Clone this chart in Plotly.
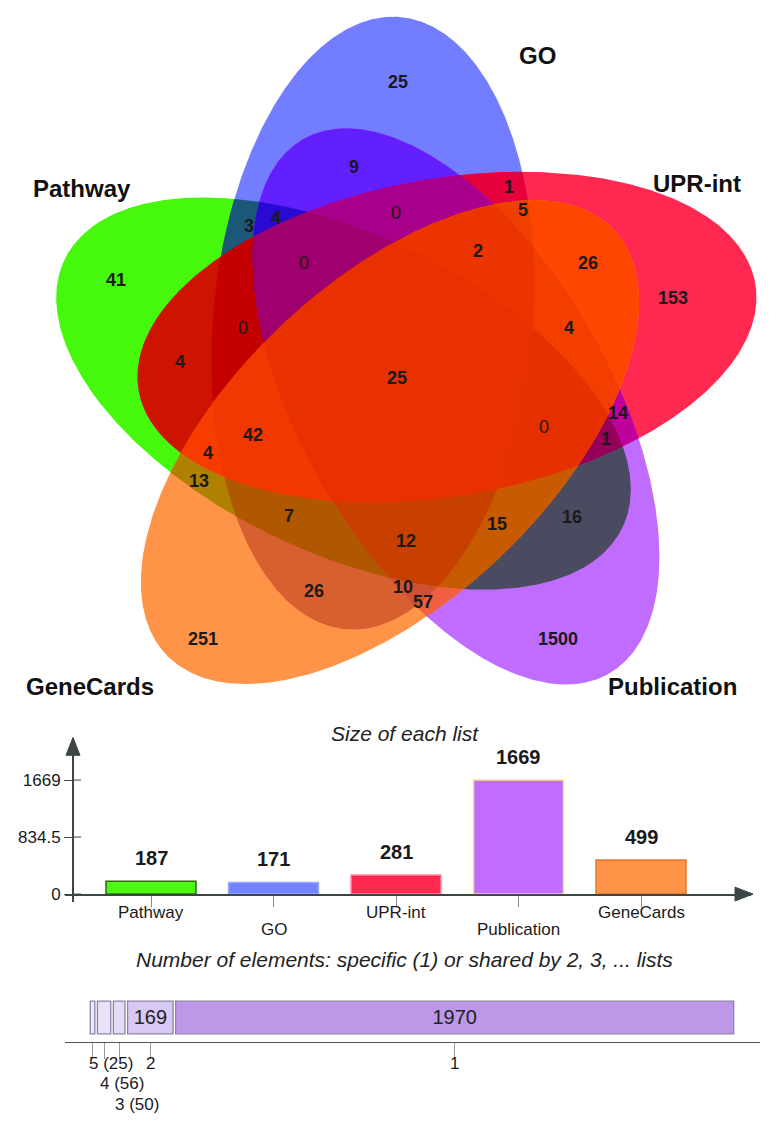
import numpy as np
import plotly.graph_objects as go

W, H = 780, 1138
FONT = "Liberation Sans, Arial, Helvetica, sans-serif"

# ---------------- data ----------------
set_keys = ["P", "G", "U", "B", "C"]
set_names = ["Pathway", "GO", "UPR-int", "Publication", "GeneCards"]
list_sizes = [187, 171, 281, 1669, 499]

region_keys = ["P", "G", "U", "B", "C",
               "PG", "PU", "PB", "PC", "GU", "GB", "GC", "UB", "UC", "BC",
               "PGU", "PGB", "PGC", "PUB", "PUC", "PBC", "GUB", "GUC", "GBC", "UBC",
               "PGUB", "PGUC", "PGBC", "PUBC", "GUBC",
               "PGUBC"]
region_counts = [41, 25, 153, 1500, 251,
                 3, 4, 16, 13, 1, 9, 26, 14, 26, 57,
                 0, 4, 7, 1, 4, 15, 0, 5, 10, 4,
                 0, 42, 12, 0, 2,
                 25]

degree_levels = [5, 4, 3, 2, 1]
degree_counts = [25, 56, 50, 169, 1970]

# ---------------- layout / style ----------------
# ellipse geometry in venn pixel space: cx, cy, semi-major, semi-minor, rotation (deg)
ELLIPSES = {
    "P": (343.5, 397.0, 310, 160, 26.0),
    "G": (373.0, 326.0, 310, 160, 95.0),
    "U": (447.0, 340.0, 313, 160, -10.0),
    "B": (456.0, 410.0, 310, 155, 60.6),
    "C": (390.0, 446.0, 310, 160, -44.0),
}
REGION_COLORS = {
    "P": "#46F80C", "G": "#737DFF", "U": "#FF2850", "B": "#C06CFF", "C": "#FF9448",
    "PG": "#1C5878", "PU": "#CC1400", "PB": "#4A4A60", "PC": "#B08000", "GU": "#E6003C",
    "GB": "#6220FF", "GC": "#D86030", "UB": "#C0009A", "UC": "#FF4600", "BC": "#F06040",
    "PGU": "#C40000", "PGB": "#280AD2", "PGC": "#B05800", "PUB": "#96005A", "PUC": "#F83C00",
    "PBC": "#C85A00", "GUB": "#A8008C", "GUC": "#F04000", "GBC": "#D25032", "UBC": "#F43E00",
    "PGUB": "#A0006E", "PGUC": "#F03800", "PGBC": "#C84000", "PUBC": "#E63000", "GUBC": "#EB3400",
    "PGUBC": "#E83000",
}
COUNT_POS = {
    "P": (116, 282), "G": (398, 83), "U": (673, 301), "B": (558, 645), "C": (203, 645),
    "PG": (249, 228), "PU": (180, 365), "PB": (572, 522), "PC": (199, 485), "GU": (509, 189),
    "GB": (354, 168), "GC": (314, 596), "UB": (618, 417), "UC": (588, 265), "BC": (423, 607),
    "PGU": (243, 331), "PGB": (276, 220), "PGC": (289, 521), "PUB": (606, 443), "PUC": (208, 457),
    "PBC": (497, 529), "GUB": (396, 215), "GUC": (523, 212), "GBC": (403, 592), "UBC": (569, 331),
    "PGUB": (304, 265), "PGUC": (253, 439), "PGBC": (406, 546), "PUBC": (544, 431), "GUBC": (478, 253),
    "PGUBC": (397, 381),
}
SET_LABEL_POS = {"P": (82, 190), "G": (537, 56), "U": (697, 185), "B": (672, 693), "C": (90, 693)}

BAR_COLORS = ["#4CF912", "#7383FF", "#FF2850", "#C06CFF", "#FF9448"]
BAR_LINES = ["#2E6A12", "#9AA8FF", "#FF8CA0", "#FFE27A", "#E07838"]
DEGREE_FILLS = {5: "#EEE8FA", 4: "#EAE0FA", 3: "#E6DAF8", 2: "#DAC8F4", 1: "#BE98E8"}
TXT = "#1a1a1a"
AXC = "#3c4646"


def px(x):
    return x / W


def py(y):
    return 1 - y / H


def _rot(th):
    r = np.radians(th)
    return np.cos(r), np.sin(r)


def ellipse_boundary(e, n=1600):
    cx, cy, a, b, th = e
    c, s = _rot(th)
    t = np.linspace(0, 2 * np.pi, n, endpoint=False)
    x = cx + a * np.cos(t) * c - b * np.sin(t) * s
    y = cy + a * np.cos(t) * s + b * np.sin(t) * c
    return x, y


def inside(x, y, e):
    cx, cy, a, b, th = e
    c, s = _rot(th)
    dx, dy = x - cx, y - cy
    u = dx * c + dy * s
    v = -dx * s + dy * c
    return (u / a) ** 2 + (v / b) ** 2 <= 1 + 1e-9


def intersection_polygon(keys):
    xs, ys = [], []
    for k in keys:
        bx, by = ellipse_boundary(ELLIPSES[k])
        m = np.ones(bx.shape, bool)
        for o in keys:
            if o != k:
                m &= inside(bx, by, ELLIPSES[o])
        xs.append(bx[m])
        ys.append(by[m])
    x = np.concatenate(xs)
    y = np.concatenate(ys)
    if len(x) < 3:
        return None, None
    mx, my = x.mean(), y.mean()
    order = np.argsort(np.arctan2(y - my, x - mx))
    x, y = x[order], y[order]
    return np.append(x, x[0]), np.append(y, y[0])


def ann(**kw):
    d = dict(showarrow=False, xanchor="center", yanchor="middle")
    d.update(kw)
    return d


fig = go.Figure()

# ---- Venn: paint intersections from low to high order (painter's algorithm) ----
for key in sorted(region_keys, key=len):
    x, y = intersection_polygon(list(key))
    if x is None:
        continue
    fig.add_trace(go.Scatter(x=x, y=y, mode="lines", fill="toself",
                             fillcolor=REGION_COLORS[key], line=dict(width=0, color=REGION_COLORS[key]),
                             hoverinfo="skip", xaxis="x", yaxis="y"))

annotations = []
for key, cnt in zip(region_keys, region_counts):
    x, y = COUNT_POS[key]
    txt = f"<b>{cnt}</b>" if cnt != 0 else str(cnt)
    annotations.append(ann(x=x, y=y, xref="x", yref="y", text=txt,
                           font=dict(size=18, color=TXT, family=FONT)))
for key, name in zip(set_keys, set_names):
    x, y = SET_LABEL_POS[key]
    annotations.append(ann(x=x, y=y, xref="x", yref="y", text=f"<b>{name}</b>",
                           font=dict(size=24, color="#111111", family=FONT)))

# ---- Size of each list ----
cat_x0, cat_step, bar_px_w = 151.0, 122.5, 90.0
y0_px, ytop_px, unit_px = 902.0, 746.0, 115.0 / 1669.0
ax2_left, ax2_right, yax_x = 65.0, 751.0, 73.0

fig.add_trace(go.Bar(x=set_names, y=list_sizes, xaxis="x2", yaxis="y2",
                     width=bar_px_w / cat_step,
                     marker=dict(color=BAR_COLORS, line=dict(color=BAR_LINES, width=1.5)),
                     hoverinfo="skip"))
for i, (name, v) in enumerate(zip(set_names, list_sizes)):
    annotations.append(ann(x=name, y=v, xref="x2", yref="y2", yanchor="bottom", yshift=10,
                           text=f"<b>{v}</b>", font=dict(size=20, color=TXT, family=FONT)))
    annotations.append(ann(x=name, y=py(921 if i % 2 == 0 else 938), xref="x2", yref="paper",
                           text=name, font=dict(size=17, color=TXT, family=FONT)))

annotations.append(ann(x=px(405), y=py(740), xref="paper", yref="paper",
                       text="<i>Size of each list</i>",
                       font=dict(size=21, color="#222222", family=FONT)))

ymax = max(list_sizes)
ytick_vals = [0, ymax / 2, ymax]
ytick_text = [f"{v:g}" for v in ytick_vals]

shapes = []
# y-axis stub below zero, crossing tick halves, arrow heads
shapes.append(dict(type="line", xref="paper", yref="paper", x0=px(yax_x), x1=px(yax_x),
                   y0=py(y0_px), y1=py(910), line=dict(color=AXC, width=2)))
for v in ytick_vals:
    shapes.append(dict(type="line", xref="paper", yref="y2", x0=px(yax_x), x1=px(yax_x + 8),
                       y0=v, y1=v, line=dict(color=AXC, width=1)))
shapes.append(dict(type="path", xref="paper", yref="paper",
                   path=f"M {px(66)},{py(762)} L {px(73)},{py(744)} L {px(80)},{py(762)} Z",
                   fillcolor=AXC, line=dict(color=AXC, width=1)))
shapes.append(dict(type="path", xref="paper", yref="paper",
                   path=f"M {px(735)},{py(895)} L {px(753)},{py(902)} L {px(735)},{py(909)} Z",
                   fillcolor=AXC, line=dict(color=AXC, width=1)))

# ---- degree distribution ----
deg_x0, deg_x1 = 89.0, 735.0
total = sum(degree_counts)
k = (deg_x1 - deg_x0) / total
gap = 2.6 / k
cum = np.concatenate([[0], np.cumsum(degree_counts)[:-1]])
centers = cum + np.array(degree_counts) / 2.0
for d, c, b0 in zip(degree_levels, degree_counts, cum):
    show = c * k > 30
    fig.add_trace(go.Bar(orientation="h", y=[0.5], x=[c - gap], base=[b0 + gap / 2],
                         width=33 / 49, xaxis="x3", yaxis="y3",
                         marker=dict(color=DEGREE_FILLS[d], line=dict(color="#8C84A4", width=1.3)),
                         text=[str(c) if show else ""], textposition="inside",
                         insidetextanchor="middle", textangle=0,
                         textfont=dict(size=20, color="#222222", family=FONT),
                         hoverinfo="skip"))
row = 0
for d, c, cx in zip(degree_levels, degree_counts, centers):
    if c * k > 30:
        annotations.append(ann(x=cx, y=py(1073), xref="x3", yref="paper", text=str(d),
                               font=dict(size=17, color=TXT, family=FONT)))
    else:
        annotations.append(ann(x=cx, y=py(1073 + 20.5 * row), xref="x3", yref="paper",
                               text=f"{d} ({c})", xanchor="left", xshift=-6,
                               font=dict(size=17, color=TXT, family=FONT)))
        row += 1

annotations.append(ann(x=px(404), y=py(968), xref="paper", yref="paper",
                       text="<i>Number of elements: specific (1) or shared by 2, 3, ... lists</i>",
                       font=dict(size=21, color="#222222", family=FONT)))

ax3_left, ax3_right = 65.0, 760.0

fig.update_layout(
    width=W, height=H, autosize=False,
    margin=dict(l=0, r=0, t=0, b=0),
    paper_bgcolor="white", plot_bgcolor="white",
    showlegend=False, barmode="overlay",
    font=dict(family=FONT, color=TXT),
    xaxis=dict(domain=[0, 1], range=[0, W], visible=False, fixedrange=True),
    yaxis=dict(domain=[py(720), 1], range=[720, 0], visible=False, fixedrange=True),
    xaxis2=dict(domain=[px(ax2_left), px(ax2_right)], anchor="y2", type="category",
                categoryorder="array", categoryarray=set_names,
                range=[(ax2_left - cat_x0) / cat_step, (ax2_right - cat_x0) / cat_step],
                showline=True, linecolor=AXC, linewidth=2, showgrid=False, zeroline=False,
                ticks="outside", ticklen=11, tickcolor="#8a8a8a", tickwidth=1,
                showticklabels=False, fixedrange=True),
    yaxis2=dict(domain=[py(y0_px), py(ytop_px)], anchor="free", position=px(yax_x),
                range=[0, (y0_px - ytop_px) / unit_px],
                showline=True, linecolor=AXC, linewidth=2, showgrid=False, zeroline=False,
                tickvals=ytick_vals, ticktext=ytick_text, ticks="outside", ticklen=8,
                tickcolor=AXC, tickfont=dict(size=17, color=TXT, family=FONT), fixedrange=True),
    xaxis3=dict(domain=[px(ax3_left), px(ax3_right)], anchor="y3",
                range=[(ax3_left - deg_x0) / k, (ax3_right - deg_x0) / k],
                showline=True, linecolor="#555555", linewidth=1.5, showgrid=False, zeroline=False,
                tickvals=list(centers), ticks="outside", ticklen=16, tickcolor="#9a9a9a",
                tickwidth=1, showticklabels=False, fixedrange=True),
    yaxis3=dict(domain=[py(1051), py(1002)], anchor="x3", range=[0, 1], visible=False,
                fixedrange=True),
    annotations=annotations,
    shapes=shapes,
)

fig.write_html("out.html",
               config={"displayModeBar": False, "staticPlot": True},
               post_script="document.body.style.margin='0px';document.body.style.overflow='hidden';")
